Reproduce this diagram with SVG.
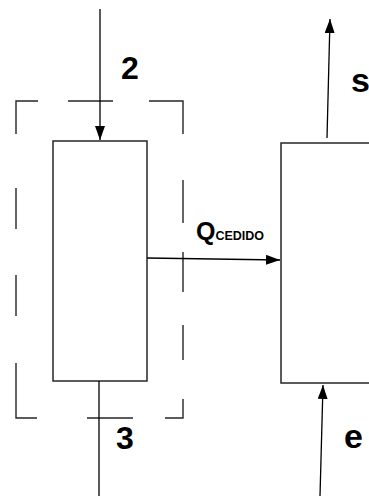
<svg xmlns="http://www.w3.org/2000/svg" width="369" height="496" viewBox="0 0 369 496">
<style>
.ln{stroke:#000;stroke-width:1.3;fill:none}
.box{stroke:#262626;stroke-width:1.5;fill:#fff}
.dash{stroke:#262626;stroke-width:1.4;fill:none}
.lbl{font-family:"Liberation Sans",Arial,sans-serif;font-weight:bold;fill:#000}
</style>
<defs>
<marker id="ah" viewBox="0 0 10 10" refX="10" refY="5" markerWidth="10" markerHeight="10" markerUnits="userSpaceOnUse" orient="auto">
<path d="M0,0 L10,5 L0,10 Z" fill="#000"/>
</marker>
<marker id="ahL" viewBox="0 0 14 10" refX="14" refY="5" markerWidth="14" markerHeight="10" markerUnits="userSpaceOnUse" orient="auto">
<path d="M0,0 L14,5 L0,10 Z" fill="#000"/>
</marker>
</defs>
<rect width="369" height="496" fill="#fff"/>
<g id="control-volume">
<path class="dash" d="M16,134 V101 H38 M68,101 H113 M149,101 H183 V134 M16,188 V229 M16,275 V316 M16,363 V418 H37 M87,418 H133 M165,418 H183 V399 M183,180 V223 M183,252 V292 M183,325 V360"/>
</g>
<g id="node-left">
<rect class="box" x="53" y="141" width="94" height="240"/>
</g>
<g id="node-right">
<rect class="box" x="281" y="143" width="95" height="240"/>
</g>
<g id="connectors">
<line class="ln" x1="100" y1="9" x2="100" y2="140" marker-end="url(#ahL)"/>
<line class="ln" x1="99" y1="381" x2="99" y2="496"/>
<line class="ln" x1="147" y1="258" x2="280" y2="260" marker-end="url(#ahL)"/>
<line class="ln" x1="327" y1="138" x2="330" y2="19" marker-end="url(#ahL)"/>
<line class="ln" x1="320" y1="496" x2="323" y2="385" marker-end="url(#ahL)"/>
</g>
<g id="labels">
<text class="lbl" x="121" y="79" font-size="32">2</text>
<text class="lbl" x="116" y="449" font-size="32">3</text>
<text class="lbl" x="351" y="92" font-size="34">s</text>
<text class="lbl" x="344" y="448" font-size="34">e</text>
<text class="lbl" x="196" y="240" font-size="25">Q<tspan font-size="12.5" dx="0">CEDIDO</tspan></text>
</g>
</svg>
